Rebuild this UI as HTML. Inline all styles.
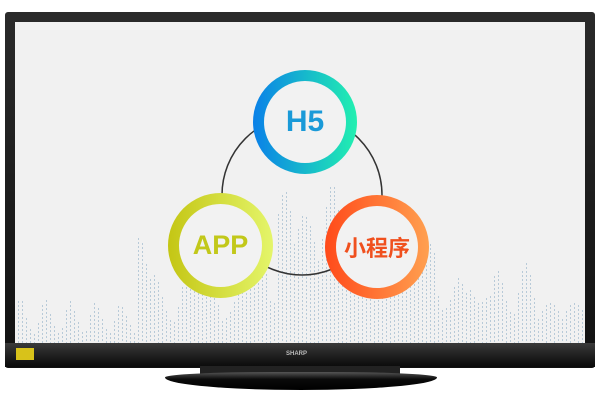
<!DOCTYPE html>
<html><head><meta charset="utf-8"><style>
html,body{margin:0;padding:0;background:#fff;width:600px;height:400px;overflow:hidden;position:relative;font-family:"Liberation Sans","Noto Sans CJK SC",sans-serif}
.frame{position:absolute;left:5px;top:12px;width:590px;height:356px;background:linear-gradient(#2a2a2a,#111);border-radius:3px}
.screen{position:absolute;left:15px;top:22px;width:570px;height:321px;background:#f1f1f1;overflow:hidden}
.bez{position:absolute;left:5px;top:343px;width:590px;height:24px;background:linear-gradient(#3a3a3a,#1c1c1c 60%,#0a0a0a)}
.stand{position:absolute;left:165px;top:372px;width:272px;height:18px;background:linear-gradient(#555,#0a0a0a 40%,#000);border-radius:40% 40% 50% 50%/30% 30% 70% 70%}
.neck{position:absolute;left:200px;top:366px;width:200px;height:10px;background:#222}
.ring{position:absolute;border-radius:50%;box-sizing:border-box}
.inner{position:absolute;left:11px;top:11px;right:11px;bottom:11px;border-radius:50%;background:#f2f2f2;display:flex;align-items:center;justify-content:center;font-weight:bold}
.dl{position:absolute;width:1px;background:repeating-linear-gradient(#b8cad8 0 2px,transparent 2px 4px)}
</style></head><body>
<div class="frame"></div>
<div class="screen" id="scr"></div>
<div class="bez"></div>
<div style="position:absolute;left:16px;top:348px;width:18px;height:12px;background:#d8c21a"></div>
<div style="position:absolute;left:286px;top:351px;color:#bbb;font-size:6px;font-weight:bold">SHARP</div>
<div class="neck"></div>
<div class="stand"></div>
<svg style="position:absolute;left:0;top:0" width="600" height="400"><circle cx="302" cy="195" r="80" fill="none" stroke="#333" stroke-width="1.5"/></svg>
<div class="ring" style="left:253px;top:70px;width:104px;height:104px;background:linear-gradient(90deg,#0a80e8,#22f0b0)"><div class="inner" style="font-size:30px;color:#1a9ad8">H5</div></div>
<div class="ring" style="left:168px;top:193px;width:105px;height:105px;background:linear-gradient(90deg,#c4c614,#e4f56a)"><div class="inner" style="font-size:27px;color:#c2c81a">APP</div></div>
<div class="ring" style="left:325px;top:195px;width:104px;height:104px;background:linear-gradient(90deg,#ff4a1a,#ffa050)"><div class="inner" style="font-size:22px;color:#f0501e">小程序</div></div>
<script>
var s=document.getElementById('scr');
function env(x){var h=20;if(x>120&&x<260)h=70+40*Math.sin(x/9);if(x>260&&x<340)h=140+20*Math.sin(x/7);if(x>340&&x<420)h=100;if(x>420&&x<520)h=60+20*Math.sin(x/5);if(x<120)h=30+20*Math.sin(x/4);if(x>=520)h=40;return h;}
for(var x=3;x<570;x+=4){var h=env(x)*(0.6+0.4*Math.abs(Math.sin(x*1.7)));var d=document.createElement('div');d.className='dl';d.style.left=x+'px';d.style.height=h+'px';d.style.top=(321-h)+'px';s.appendChild(d);}
</script>
</body></html>
